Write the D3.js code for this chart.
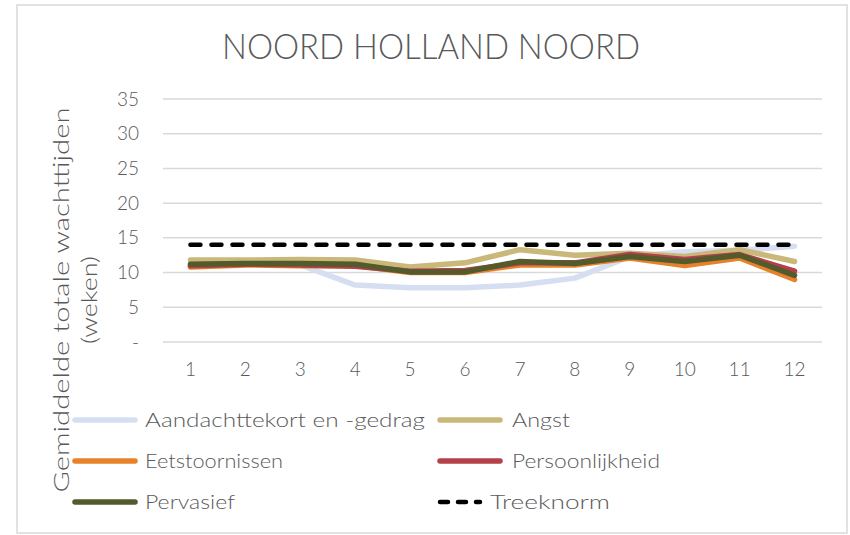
<!DOCTYPE html>
<html>
<head>
<meta charset="utf-8">
<script src="https://cdn.jsdelivr.net/npm/d3@7"></script>
<style>
  html, body { margin: 0; padding: 0; background: #fff; }
  svg { display: block; }
  text { font-family: Lato, "Open Sans", sans-serif; fill: #595959; }
</style>
</head>
<body>
<script>
// ---------- DATA ----------
const title = "NOORD HOLLAND NOORD";
const yLabelLines = ["Gemiddelde totale wachttijden", "(weken)"];
const categories = ["1","2","3","4","5","6","7","8","9","10","11","12"];
const yTickValues = [0, 5, 10, 15, 20, 25, 30, 35];
const yTickLabels = ["-", "5", "10", "15", "20", "25", "30", "35"];

const seriesNames = ["Aandachttekort en -gedrag", "Angst", "Eetstoornissen", "Persoonlijkheid", "Pervasief", "Treeknorm"];
const aandacht      = [11.0, 11.2, 11.1, 8.2, 7.8, 7.8, 8.2, 9.2, 12.3, 13.0, 13.2, 13.8];
const angst         = [11.8, 11.8, 11.9, 11.8, 10.8, 11.4, 13.3, 12.5, 12.8, 12.3, 13.3, 11.6];
const eetstoornis   = [10.8, 11.1, 11.0, 11.0, 10.0, 10.0, 11.1, 11.1, 12.1, 11.0, 12.1, 9.0];
const persoonlijk   = [11.0, 11.2, 11.1, 10.9, 10.2, 10.3, 11.4, 11.4, 12.6, 11.9, 12.6, 10.2];
const pervasief     = [11.2, 11.3, 11.3, 11.2, 10.1, 10.1, 11.6, 11.3, 12.3, 11.6, 12.5, 9.6];
const treeknorm     = [14, 14, 14, 14, 14, 14, 14, 14, 14, 14, 14, 14];

const seriesValues = [aandacht, angst, eetstoornis, persoonlijk, pervasief, treeknorm];
const seriesColors = ["#d6dff2", "#c9b87a", "#e8822a", "#b5404a", "#535a2c", "#000000"];

// ---------- LAYOUT ----------
const W = 850, H = 535;
const plot = { left: 163, right: 822, top: 99, bottom: 342 };

const svg = d3.select("body").append("svg").attr("width", W).attr("height", H);

// outer border
svg.append("rect")
  .attr("x", 17).attr("y", 5).attr("width", 830).attr("height", 528)
  .attr("fill", "#fff").attr("stroke", "#d9d9d9").attr("stroke-width", 1.5);

// title
svg.append("text")
  .attr("x", 431).attr("y", 59)
  .attr("text-anchor", "middle")
  .attr("font-size", 36).attr("font-weight", 300)
  .attr("textLength", 418).attr("lengthAdjust", "spacingAndGlyphs")
  .style("fill", "#595959")
  .text(title);

const x = d3.scaleBand().domain(categories).range([plot.left, plot.right]);
const y = d3.scaleLinear().domain([0, 35]).range([plot.bottom, plot.top]);

// gridlines
svg.append("g")
  .selectAll("line").data(yTickValues).join("line")
  .attr("x1", plot.left).attr("x2", plot.right)
  .attr("y1", d => y(d)).attr("y2", d => y(d))
  .attr("stroke", "#d9d9d9").attr("stroke-width", 1.5);

// y axis (labels only)
const yAxis = d3.axisLeft(y).tickValues(yTickValues)
  .tickFormat((d, i) => yTickLabels[i]).tickSize(0).tickPadding(0);
const gy = svg.append("g").attr("transform", `translate(139,0)`).call(yAxis);
gy.select(".domain").remove();
gy.selectAll("text").attr("font-size", 19).attr("font-weight", 300)
  .attr("font-family", "Lato, sans-serif").style("fill", "#595959");

// x axis (labels only)
const xAxis = d3.axisBottom(x).tickSize(0).tickPadding(0);
const gx = svg.append("g").attr("transform", `translate(0,362)`).call(xAxis);
gx.select(".domain").remove();
gx.selectAll("text").attr("font-size", 19).attr("font-weight", 300)
  .attr("font-family", "Lato, sans-serif").style("fill", "#595959");

// y axis title
const yLabelX = [62, 90];
const yLabelLen = [385, 88];
yLabelLines.forEach((t, i) => {
  svg.append("text")
    .attr("transform", `translate(${yLabelX[i] + 7},300) rotate(-90)`)
    .attr("text-anchor", "middle")
    .attr("font-size", 21).attr("font-weight", 300)
    .attr("textLength", yLabelLen[i]).attr("lengthAdjust", "spacingAndGlyphs")
    .style("fill", "#595959")
    .text(t);
});

// lines
const line = d3.line()
  .x((d, i) => x(categories[i]) + x.bandwidth() / 2)
  .y(d => y(d));

seriesValues.forEach((vals, si) => {
  const p = svg.append("path")
    .datum(vals)
    .attr("d", line)
    .attr("fill", "none")
    .attr("stroke", seriesColors[si])
    .attr("stroke-width", si === 5 ? 4.5 : 5.5)
    .attr("stroke-linejoin", "round")
    .attr("stroke-linecap", "round");
  if (si === 5) p.attr("stroke-dasharray", "10,11");
});

// legend
const legendPos = [
  { lx: 75, tx: 145, y: 420, len: 280 },
  { lx: 440, tx: 512, y: 420, len: 58 },
  { lx: 75, tx: 145, y: 461, len: 138 },
  { lx: 440, tx: 512, y: 461, len: 148 },
  { lx: 75, tx: 145, y: 502, len: 90 },
  { lx: 440, tx: 490, y: 502, len: 120 }
];
seriesNames.forEach((name, i) => {
  const lp = legendPos[i];
  const g = svg.append("g");
  const isDash = i === 5;
  g.append("line")
    .attr("x1", lp.lx).attr("x2", isDash ? lp.lx + 40 : lp.lx + 60)
    .attr("y1", lp.y).attr("y2", lp.y)
    .attr("stroke", seriesColors[i]).attr("stroke-width", isDash ? 4.5 : 5.5)
    .attr("stroke-linecap", "round")
    .attr("stroke-dasharray", isDash ? "8,10" : null);
  g.append("text")
    .attr("x", lp.tx).attr("y", lp.y + 7)
    .attr("font-size", 20).attr("font-weight", 300)
    .attr("textLength", lp.len).attr("lengthAdjust", "spacingAndGlyphs")
    .style("fill", "#595959")
    .text(name);
});
</script>
</body>
</html>
